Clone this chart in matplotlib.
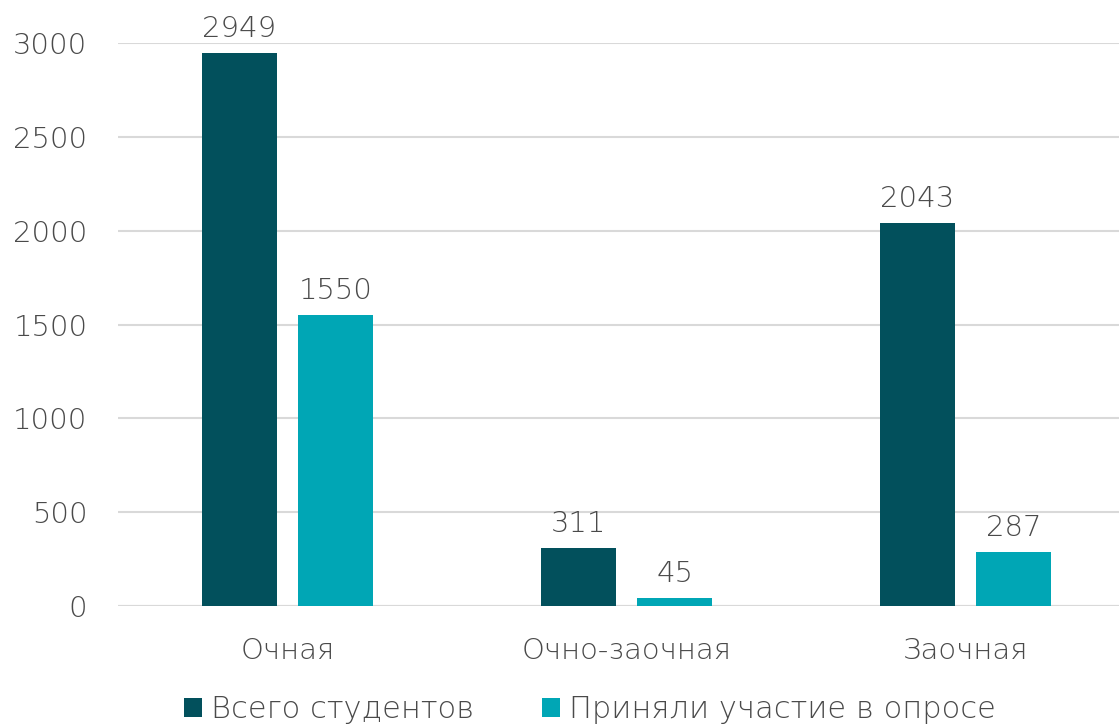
import matplotlib.pyplot as plt
import numpy as np

categories = ['Очная', 'Очно-заочная', 'Заочная']
total = [2949, 311, 2043]
surveyed = [1550, 45, 287]
series_names = ['Всего студентов', 'Приняли участие в опросе']
yticks = [0, 500, 1000, 1500, 2000, 2500, 3000]

dark = '#02505C'
light = '#00A6B5'
txt = '#4A4A4A'

plt.rcParams['font.family'] = ['DejaVu Sans']
plt.rcParams['font.weight'] = 'light'

fig = plt.figure(figsize=(11.19, 7.27), dpi=100)
W, H = 1119, 727
# axes spans beyond the right edge like the original crop
x0, x1 = 118, 1135
y0, y1 = 606, 43
ax = fig.add_axes([x0 / W, 1 - y0 / H, (x1 - x0) / W, (y0 - y1) / H])

x = np.arange(len(categories))
bw = 0.222
off = 0.142
b1 = ax.bar(x - off, total, bw, color=dark, label=series_names[0], zorder=3)
b2 = ax.bar(x + off, surveyed, bw, color=light, label=series_names[1], zorder=3)

fs = 21
for bars in (b1, b2):
    for r in bars:
        ax.annotate(str(int(r.get_height())), (r.get_x() + r.get_width() / 2, r.get_height()),
                    xytext=(0, 7), textcoords='offset points', ha='center', va='bottom',
                    fontsize=fs, color=txt)

ax.set_xlim(-0.5, 2.5)
ax.set_ylim(0, 3000)
ax.set_yticks(yticks)
ax.set_yticklabels([str(v) for v in yticks], fontsize=fs, color=txt)
ax.set_xticks(x)
ax.set_xticklabels(categories, fontsize=fs, color=txt)
ax.tick_params(length=0)
ax.tick_params(axis='y', pad=22)
ax.tick_params(axis='x', pad=22)
ax.grid(axis='y', color='#D9D9D9', linewidth=1.5, zorder=0)
ax.set_axisbelow(True)
for s in ax.spines.values():
    s.set_visible(False)
ax.axhline(0, color='#D9D9D9', linewidth=1.5, zorder=1)

fig.legend(handles=[b1, b2], labels=series_names, loc='center', bbox_to_anchor=(590 / W, 1 - 710 / H),
           ncol=2, frameon=False, fontsize=22, handlelength=0.6, handleheight=0.6,
           handletextpad=0.3, columnspacing=2.2, labelcolor=txt)

fig.savefig('out.png', dpi=100)
